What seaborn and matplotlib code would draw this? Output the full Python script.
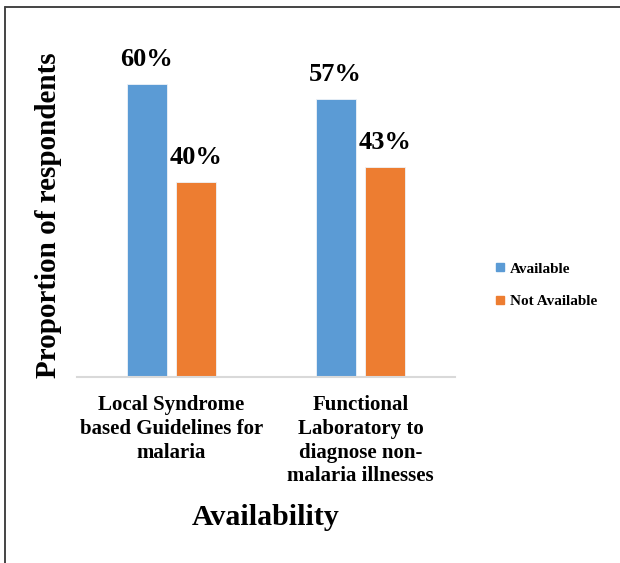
import matplotlib
matplotlib.use("Agg")
import matplotlib.pyplot as plt
from matplotlib.lines import Line2D
import seaborn as sns
import pandas as pd

# Survey results
categories = [
    "Local Syndrome\nbased Guidelines for\nmalaria",
    "Functional\nLaboratory to\ndiagnose non-\nmalaria illnesses",
]
series = ["Available", "Not Available"]
available = [0.60, 0.57]
not_available = [0.40, 0.43]
colors = ["#5B9BD5", "#ED7D31"]

df = pd.DataFrame({
    "Facility": categories * 2,
    "Status": [series[0]] * len(categories) + [series[1]] * len(categories),
    "Proportion": available + not_available,
})

sns.set_style("white")
plt.rcParams["font.family"] = ["Liberation Serif", "DejaVu Serif"]
plt.rcParams["font.weight"] = "bold"
plt.rcParams["text.color"] = "black"
plt.rcParams["axes.labelcolor"] = "black"
plt.rcParams["xtick.color"] = "black"

fig = plt.figure(figsize=(6.2, 5.63), dpi=100)
ax = fig.add_axes([77 / 620, 1 - 377 / 563, 378 / 620, 342 / 563])

sns.barplot(data=df, x="Facility", y="Proportion", hue="Status",
            palette=colors, saturation=1, width=0.529, gap=0.2, ax=ax,
            edgecolor="#EEF3F8", linewidth=0.6, legend=False)

ax.set_xlim(-0.5, 1.5)
ax.set_ylim(0, 0.70)
ax.set_yticks([])

for cont in ax.containers:
    ax.bar_label(cont, labels=[f"{v:.0%}" for v in cont.datavalues],
                 padding=9, fontsize=19, fontweight="bold", color="black")

sns.despine(ax=ax, left=True)
ax.spines["bottom"].set_color("#D9D9D9")
ax.spines["bottom"].set_linewidth(1.5)
ax.tick_params(axis="x", length=0, pad=13, labelsize=15)
for lab in ax.get_xticklabels():
    lab.set_fontweight("bold")
    lab.set_linespacing(1.25)

ax.set_xlabel("Availability", fontsize=21.5, fontweight="bold")
ax.xaxis.set_label_coords(0.5, -0.37)
ax.set_ylabel("Proportion of respondents", fontsize=21, fontweight="bold")
ax.yaxis.set_label_coords(-0.04, 0.474)

handles = [Line2D([], [], marker="s", linestyle="none", markersize=6,
                  markerfacecolor=c, markeredgecolor=c) for c in colors]
fig.legend(handles, series, loc="center left",
           bbox_to_anchor=(482 / 620, 1 - 285 / 563), frameon=False,
           prop={"family": "Liberation Serif", "weight": "bold", "size": 11},
           handlelength=0.6, handletextpad=0.3, labelspacing=1.2)

# Frame lines on the left and top edges
fig.add_artist(Line2D([5 / 620, 5 / 620], [0, 1 - 6.5 / 563],
                      transform=fig.transFigure, color="#444444", linewidth=1.4))
fig.add_artist(Line2D([5 / 620, 1], [1 - 6.5 / 563, 1 - 6.5 / 563],
                      transform=fig.transFigure, color="#444444", linewidth=1.4))

fig.savefig("out.png", dpi=100, facecolor="white")
